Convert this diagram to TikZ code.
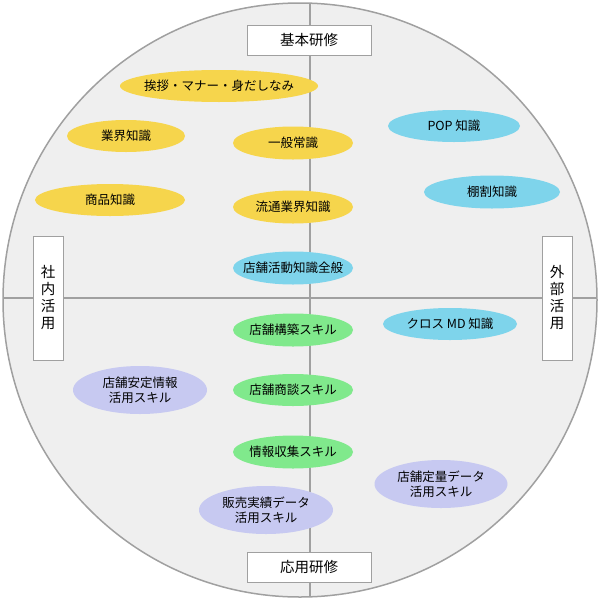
\documentclass[tikz,border=0pt]{standalone}
\usepackage{fontspec}
\setmainfont{Noto Sans CJK JP}
\definecolor{yel}{HTML}{F6D54C}
\definecolor{blu}{HTML}{7ED4EB}
\definecolor{grn}{HTML}{80E98C}
\definecolor{lav}{HTML}{C7C9F1}
\definecolor{bg}{HTML}{EFEFEF}
\definecolor{ln}{HTML}{A0A0A0}
\newcommand{\myel}[6]{\fill[#2] (#4) ellipse ({#5/2} and {#6/2}); \node[tx] (#1) at (#4) {#3};}
\begin{document}
\begin{tikzpicture}[x=1pt,y=-1pt,
  tx/.style={inner sep=0pt,font=\fontsize{12.5}{15}\selectfont,align=center},
  lbl/.style={draw=ln,fill=white,line width=0.8pt,inner sep=0pt,font=\fontsize{14.5}{17}\selectfont}]
\useasboundingbox (0,0) rectangle (600,600);
\node[circle,draw=ln,fill=bg,line width=1.5pt,minimum size=594pt,inner sep=0pt] (c) at (300,300) {};
\draw[ln,line width=1.2pt] (3,298) -- (597,298);
\draw[ln,line width=1.2pt] (310,3) -- (310,597);
\node[lbl,minimum width=124pt,minimum height=30pt] (t) at (309,40) {基本研修};
\node[lbl,minimum width=124pt,minimum height=30pt] (b) at (309,567) {応用研修};
\node[lbl,minimum width=30pt,minimum height=124pt,align=center] (l) at (48,298) {社\\内\\活\\用};
\node[lbl,minimum width=30pt,minimum height=124pt,align=center] (r) at (557,298) {外\\部\\活\\用};
\myel{a1}{yel}{挨拶・マナー・身だしなみ}{219,86}{198}{32}
\myel{a2}{yel}{業界知識}{126,136}{118}{32}
\myel{a3}{yel}{一般常識}{293,143}{120}{33}
\myel{a4}{yel}{商品知識}{110,200}{150}{32}
\myel{a5}{yel}{流通業界知識}{293,207}{120}{33}
\myel{b1}{blu}{POP 知識}{454,126}{132}{32}
\myel{b2}{blu}{棚割知識}{492,192}{136}{33}
\myel{b3}{blu}{店舗活動知識全般}{293,268}{120}{33}
\myel{b4}{blu}{クロス MD 知識}{450,324}{134}{32}
\myel{g1}{grn}{店舗構築スキル}{293,330}{120}{33}
\myel{g2}{grn}{店舗商談スキル}{293,390}{120}{32}
\myel{g3}{grn}{情報収集スキル}{293,452}{120}{33}
\myel{p1}{lav}{店舗安定情報\\活用スキル}{140,390}{134}{48}
\myel{p2}{lav}{販売実績データ\\活用スキル}{266,510}{134}{48}
\myel{p3}{lav}{店舗定量データ\\活用スキル}{441,484}{133}{48}
\end{tikzpicture}
\end{document}
